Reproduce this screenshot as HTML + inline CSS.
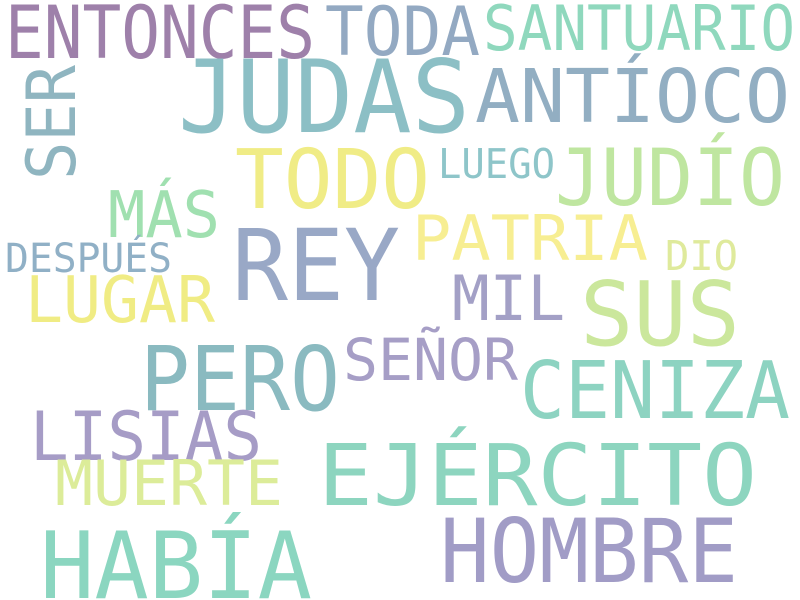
<!DOCTYPE html>
<html><head><meta charset="utf-8"><style>
html,body{margin:0;padding:0;background:#fff;}
svg{display:block;}
text{font-family:"DejaVu Sans Mono","Liberation Mono",monospace;}
</style></head><body>
<svg id="cloud" width="800" height="600" viewBox="0 0 800 600">
<rect width="800" height="600" fill="#ffffff"/>
</svg>
<script>
const words=["ENTONCES","TODA","SANTUARIO","JUDAS","ANTÍOCO","SER","TODO","LUEGO","JUDÍO","MÁS","REY","PATRIA","DESPUÉS","DIO","LUGAR","MIL","SUS","PERO","SEÑOR","CENIZA","LISIAS","MUERTE","EJÉRCITO","HABÍA","HOMBRE"];
const sizes=[73,68,62,101,74,68,82,41,78,64,99,62,40,41,64,62,89,89,58,79,68,62,85,93,88];
const colors=["#9e80aa","#93a9c2","#8fd8bd","#8cbfc5","#92aec2","#8fb5c0","#f0ec86","#8ec5c9","#bfe6a0","#a0e0b0","#99a8c6","#f7ee92","#90b0c6","#dfea9c","#f0ec84","#a3a0c6","#cbe79c","#8abac0","#a69ec6","#8dd3c1","#a69cc6","#dcec99","#8dd5bf","#8bd6c0","#a19cc6"];
const lay=[[5,58,310],[325,55,155],[483,50,312],[178,132,292],[475,122,315],[75,180,115],[235,208,195],[438,178,117],[555,205,230],[108,237,112],[232,300,168],[412,260,236],[5,272,167],[665,270,73],[25,322,190],[452,320,113],[580,345,160],[140,410,200],[343,380,175],[520,418,270],[30,460,232],[55,505,228],[318,505,439],[40,598,272],[440,582,298]];
const svg=document.getElementById('cloud');
const NS='http://www.w3.org/2000/svg';
words.forEach((w,i)=>{
  const t=document.createElementNS(NS,'text');
  
  
  const [x,y,len]=lay[i];
  t.setAttribute('x',x);t.setAttribute('y',y);
  t.setAttribute('font-size',sizes[i]);
  t.setAttribute('fill',colors[i]);
  t.setAttribute('textLength',len);
  t.setAttribute('lengthAdjust','spacingAndGlyphs');
  if(w==="SER"){t.setAttribute('transform','rotate(-90 '+x+' '+y+')');}
  t.textContent=w;
  svg.appendChild(t);
});
</script>
</body></html>
